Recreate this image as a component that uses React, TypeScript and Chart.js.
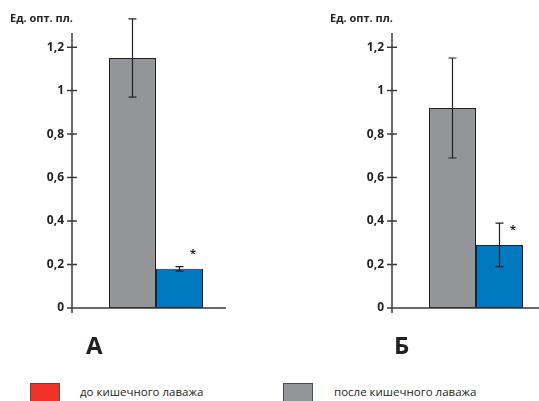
import React, { useEffect, useRef } from 'react';
import { Chart, registerables } from 'chart.js';

Chart.register(...registerables);

// ---- data ----
const categories = [''];
const panelLabels = ['А', 'Б'];
const yAxisTitle = 'Ед. опт. пл.';
const yTickValues = [0, 0.2, 0.4, 0.6, 0.8, 1, 1.2];
const greyValues = [1.15, 0.92];
const greyErrors = [0.18, 0.23];
const blueValues = [0.18, 0.29];
const blueErrors = [0.01, 0.1];
const significance = ['*', '*'];
const legendLabels = ['до кишечного лаважа', 'после кишечного лаважа'];

// ---- styles ----
const GREY = '#939598';
const BLUE = '#0079c1';
const RED = '#ef3129';
const INK = '#231f20';
const AXIS = '#3a3a3a';
const FONT = "'Open Sans', 'DejaVu Sans', sans-serif";

const panelLayout = [
  { left: 0, width: 260, axisWidth: 72, xAxisEnd: -14 },
  { left: 270, width: 310, axisWidth: 122, xAxisEnd: 0 },
];

const overlayPlugin = {
  id: 'overlay',
  afterDatasetsDraw(chart: any, _args: any, opts: any) {
    const ctx = chart.ctx;
    const y = chart.scales.y;
    const area = chart.chartArea;
    ctx.save();
    // axes
    ctx.strokeStyle = AXIS;
    ctx.lineWidth = 1.5;
    const y0 = y.getPixelForValue(0);
    ctx.beginPath();
    ctx.moveTo(area.left, y.getPixelForValue(y.max));
    ctx.lineTo(area.left, y0 + 5);
    ctx.moveTo(area.left - 5, y0);
    ctx.lineTo(area.right + opts.xAxisEnd, y0);
    yTickValues.forEach((v) => {
      const py = y.getPixelForValue(v);
      ctx.moveTo(area.left - 5, py);
      ctx.lineTo(area.left + 5, py);
    });
    ctx.stroke();
    // error bars
    ctx.strokeStyle = INK;
    ctx.lineWidth = 1.2;
    chart.data.datasets.forEach((ds: any, di: number) => {
      const meta = chart.getDatasetMeta(di);
      meta.data.forEach((bar: any, i: number) => {
        const v = ds.data[i];
        const e = ds.errors[i];
        const top = y.getPixelForValue(v + e);
        const bot = y.getPixelForValue(v - e);
        ctx.beginPath();
        ctx.moveTo(bar.x, top);
        ctx.lineTo(bar.x, bot);
        ctx.moveTo(bar.x - 4, top);
        ctx.lineTo(bar.x + 4, top);
        ctx.moveTo(bar.x - 4, bot);
        ctx.lineTo(bar.x + 4, bot);
        ctx.stroke();
        if (ds.sig && ds.sig[i]) {
          ctx.fillStyle = INK;
          ctx.font = `bold 11px ${FONT}`;
          ctx.textAlign = 'center';
          ctx.textBaseline = 'middle';
          ctx.fillText(ds.sig[i], bar.x + bar.width / 2 - 10, bar.y - 15);
        }
      });
    });
    ctx.restore();
  },
};

function Panel({ index }: { index: number }) {
  const ref = useRef<HTMLCanvasElement>(null);
  const lay = panelLayout[index];
  useEffect(() => {
    if (!ref.current) return;
    const chart = new Chart(ref.current, {
      type: 'bar',
      data: {
        labels: categories,
        datasets: [
          {
            label: legendLabels[1],
            data: [greyValues[index]],
            errors: [greyErrors[index]],
            backgroundColor: GREY,
            borderColor: INK,
            borderWidth: 1,
            borderSkipped: false,
            barPercentage: 1,
            categoryPercentage: 94 / 168,
          } as any,
          {
            label: 'blue',
            data: [blueValues[index]],
            errors: [blueErrors[index]],
            sig: [significance[index]],
            backgroundColor: BLUE,
            borderColor: INK,
            borderWidth: 1,
            borderSkipped: false,
            barPercentage: 1,
            categoryPercentage: 94 / 168,
          } as any,
        ],
      },
      options: {
        responsive: false,
        animation: false,
        layout: { padding: { top: 33, bottom: 22, left: 0, right: 20 } },
        plugins: {
          legend: { display: false },
          tooltip: { enabled: false },
          overlay: { xAxisEnd: lay.xAxisEnd },
        } as any,
        scales: {
          x: { display: false, offset: true },
          y: {
            min: 0,
            max: 1.265,
            afterBuildTicks: (s: any) => {
              s.ticks = yTickValues.map((v) => ({ value: v }));
            },
            afterFit: (s: any) => {
              s.width = lay.axisWidth;
            },
            grid: { display: false, drawTicks: false },
            border: { display: false },
            ticks: {
              padding: 8,
              color: INK,
              font: { family: FONT, weight: 'bold', size: 12 },
              callback: (v: any) => String(v).replace('.', ','),
            },
          },
        },
      },
      plugins: [overlayPlugin],
    });
    return () => chart.destroy();
  }, [index]);
  return (
    <canvas
      ref={ref}
      width={lay.width}
      height={330}
      style={{ position: 'absolute', left: lay.left, top: 0, width: lay.width, height: 330 }}
    />
  );
}

export default function App() {
  const titleStyle: React.CSSProperties = {
    position: 'absolute',
    top: 12,
    font: `bold 11px/1 ${FONT}`,
    color: INK,
    whiteSpace: 'nowrap',
  };
  const letterStyle: React.CSSProperties = {
    position: 'absolute',
    top: 333,
    font: `bold 24px/1 ${FONT}`,
    color: INK,
  };
  const legendText: React.CSSProperties = {
    position: 'absolute',
    top: 386,
    font: `11.5px/1 ${FONT}`,
    color: INK,
    whiteSpace: 'nowrap',
  };
  const swatch = (color: string, left: number): React.CSSProperties => ({
    position: 'absolute',
    left,
    top: 383,
    width: 30,
    height: 30,
    background: color,
    border: '1px solid #4d4d4d',
    boxSizing: 'border-box',
  });
  return (
    <div
      style={{
        position: 'absolute',
        left: 0,
        top: 0,
        width: 539,
        height: 401,
        overflow: 'hidden',
        background: '#fff',
      }}
    >
      <Panel index={0} />
      <Panel index={1} />
      <div style={{ ...titleStyle, left: 10 }}>{yAxisTitle}</div>
      <div style={{ ...titleStyle, left: 330 }}>{yAxisTitle}</div>
      <div style={{ ...letterStyle, left: 86 }}>{panelLabels[0]}</div>
      <div style={{ ...letterStyle, left: 394 }}>{panelLabels[1]}</div>
      <div style={swatch(RED, 30)} />
      <div style={{ ...legendText, left: 80 }}>{legendLabels[0]}</div>
      <div style={swatch(GREY, 283)} />
      <div style={{ ...legendText, left: 334 }}>{legendLabels[1]}</div>
    </div>
  );
}
